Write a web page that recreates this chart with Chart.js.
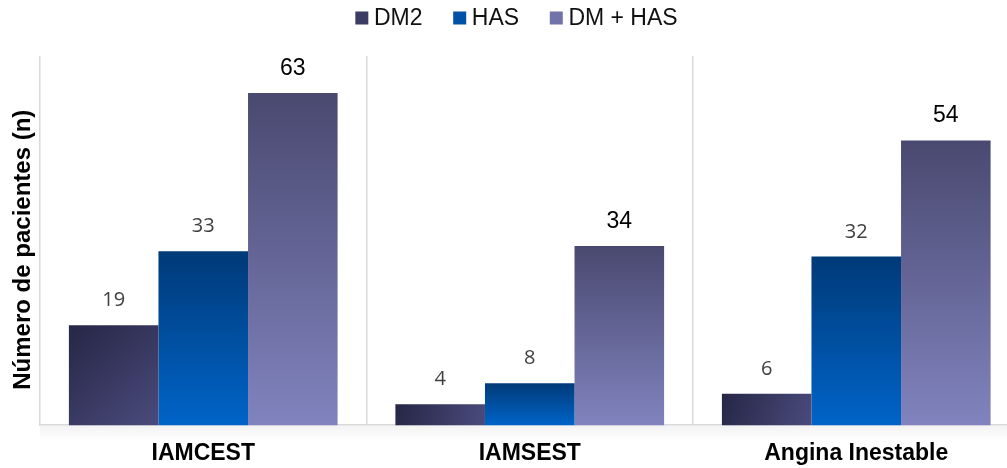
<!DOCTYPE html>
<html>
<head>
<meta charset="utf-8">
<script src="https://cdn.jsdelivr.net/npm/chart.js@4/dist/chart.umd.min.js"></script>
<style>
  html, body { margin: 0; padding: 0; background: #fff; }
  #wrap { width: 1007px; height: 468px; overflow: hidden; position: relative; }
  #box { width: 1033px; height: 468px; }
</style>
</head>
<body>
<div id="wrap"><div id="box"><canvas id="chart"></canvas></div></div>
<script>
// --- Données ---
const categories = ['IAMCEST', 'IAMSEST', 'Angina Inestable'];
const seriesNames = ['DM2', 'HAS', 'DM + HAS'];
const dm2 = [19, 4, 6];
const has = [33, 8, 32];
const dmHas = [63, 34, 54];
const yMax = 70;
const yTitle = 'Número de pacientes (n)';

const CAT_PCT = 0.823;
const legendColors = ['#3b3b63', '#0052a6', '#7273aa'];
const ARIAL = '"Liberation Sans", Arial, sans-serif';

// position d'une barre calculée depuis les échelles
function barBox(ctx) {
    const chart = ctx.chart;
    const x = chart.scales.x, y = chart.scales.y;
    if (!x || !y || !chart.chartArea) return null;
    const cat = (x.right - x.left) / categories.length;
    const bw = cat * CAT_PCT / 3;
    const left = x.getPixelForValue(ctx.dataIndex) - 1.5 * bw + ctx.datasetIndex * bw;
    const top = y.getPixelForValue(ctx.raw);
    const base = y.getPixelForValue(0);
    if (!isFinite(left) || !isFinite(top)) return null;
    return { left, right: left + bw, top, base };
}

function fillFor(stops, diagonal) {
    return (ctx) => {
        if (ctx.type !== 'data') return legendColors[ctx.datasetIndex];
        const b = barBox(ctx);
        if (!b) return stops[1];
        const c = ctx.chart.ctx;
        const g = diagonal
            ? c.createLinearGradient(b.left, b.top, b.right, b.base)
            : c.createLinearGradient(0, b.top, 0, b.base);
        g.addColorStop(0, stops[0]);
        g.addColorStop(1, stops[1]);
        return g;
    };
}

// légende dessinée à la main (carré collé au texte)
const topLegend = {
    id: 'topLegend',
    afterDraw(chart) {
        const ctx = chart.ctx;
        const box = 13, gap = 5.6, spacing = 30.7, cy = 18;
        ctx.save();
        ctx.font = '23px ' + ARIAL;
        ctx.textBaseline = 'middle';
        const widths = seriesNames.map(n => ctx.measureText(n).width);
        const total = widths.reduce((s, w) => s + box + gap + w, 0) + spacing * (seriesNames.length - 1);
        let x = chart.width / 2 - total / 2;
        seriesNames.forEach((n, i) => {
            ctx.fillStyle = legendColors[i];
            ctx.fillRect(x, cy - box / 2, box, box);
            ctx.fillStyle = '#111';
            ctx.fillText(n, x + box + gap, cy + 1);
            x += box + gap + widths[i] + spacing;
        });
        ctx.restore();
    }
};

// titre vertical de l'axe Y, un peu sous le milieu de la zone
const yAxisTitle = {
    id: 'yAxisTitle',
    afterDraw(chart) {
        const ctx = chart.ctx;
        const { chartArea } = chart;
        ctx.save();
        ctx.translate(23, (chartArea.top + chartArea.bottom) / 2 + 9);
        ctx.rotate(-Math.PI / 2);
        ctx.font = 'bold 24px ' + ARIAL;
        ctx.fillStyle = '#000';
        ctx.textAlign = 'center';
        ctx.textBaseline = 'middle';
        ctx.fillText(yTitle, 0, 0);
        ctx.restore();
    }
};

// étiquettes de valeur au-dessus des barres
const valueLabels = {
    id: 'valueLabels',
    afterDatasetsDraw(chart) {
        const ctx = chart.ctx;
        ctx.save();
        ctx.textAlign = 'center';
        ctx.textBaseline = 'middle';
        chart.data.datasets.forEach((ds, di) => {
            const meta = chart.getDatasetMeta(di);
            if (di === 2) {
                ctx.font = '23px ' + ARIAL;
                ctx.fillStyle = '#000000';
            } else {
                ctx.font = '20px "Open Sans", sans-serif';
                ctx.fillStyle = '#404040';
            }
            meta.data.forEach((el, i) => {
                ctx.fillText(String(ds.data[i]), el.x, el.y - 24.5);
            });
        });
        ctx.restore();
    }
};

// léger ombrage sous l'axe
const baseShade = {
    id: 'baseShade',
    beforeDatasetsDraw(chart) {
        const { ctx, chartArea } = chart;
        const g = ctx.createLinearGradient(0, chartArea.bottom, 0, chartArea.bottom + 16);
        g.addColorStop(0, '#f3f3f3');
        g.addColorStop(1, '#ffffff');
        ctx.save();
        ctx.fillStyle = g;
        ctx.fillRect(chartArea.left, chartArea.bottom, chartArea.right - chartArea.left, 16);
        ctx.restore();
    }
};

new Chart(document.getElementById('chart'), {
    type: 'bar',
    data: {
        labels: categories,
        datasets: [
            { label: seriesNames[0], data: dm2, backgroundColor: fillFor(['#262646', '#4a4b7c'], true) },
            { label: seriesNames[1], data: has, backgroundColor: fillFor(['#003a78', '#0064c8'], false) },
            { label: seriesNames[2], data: dmHas, backgroundColor: fillFor(['#494970', '#8183be'], false) }
        ]
    },
    options: {
        responsive: true,
        maintainAspectRatio: false,
        animation: false,
        datasets: { bar: { categoryPercentage: CAT_PCT, barPercentage: 1, borderWidth: 0 } },
        layout: { padding: { left: 40, right: 13.5, top: 56, bottom: -13 } },
        plugins: {
            legend: { display: false },
            tooltip: { enabled: false }
        },
        scales: {
            x: {
                grid: { display: true, offset: true, drawTicks: false, color: '#d9d9d9', lineWidth: 1.5 },
                border: { display: true, color: '#d9d9d9', width: 2 },
                ticks: {
                    color: '#000',
                    padding: 14,
                    font: { family: ARIAL, size: 23, weight: 'bold' }
                }
            },
            y: {
                display: false,
                min: 0,
                max: yMax
            }
        }
    },
    plugins: [baseShade, valueLabels, topLegend, yAxisTitle]
});
</script>
</body>
</html>
